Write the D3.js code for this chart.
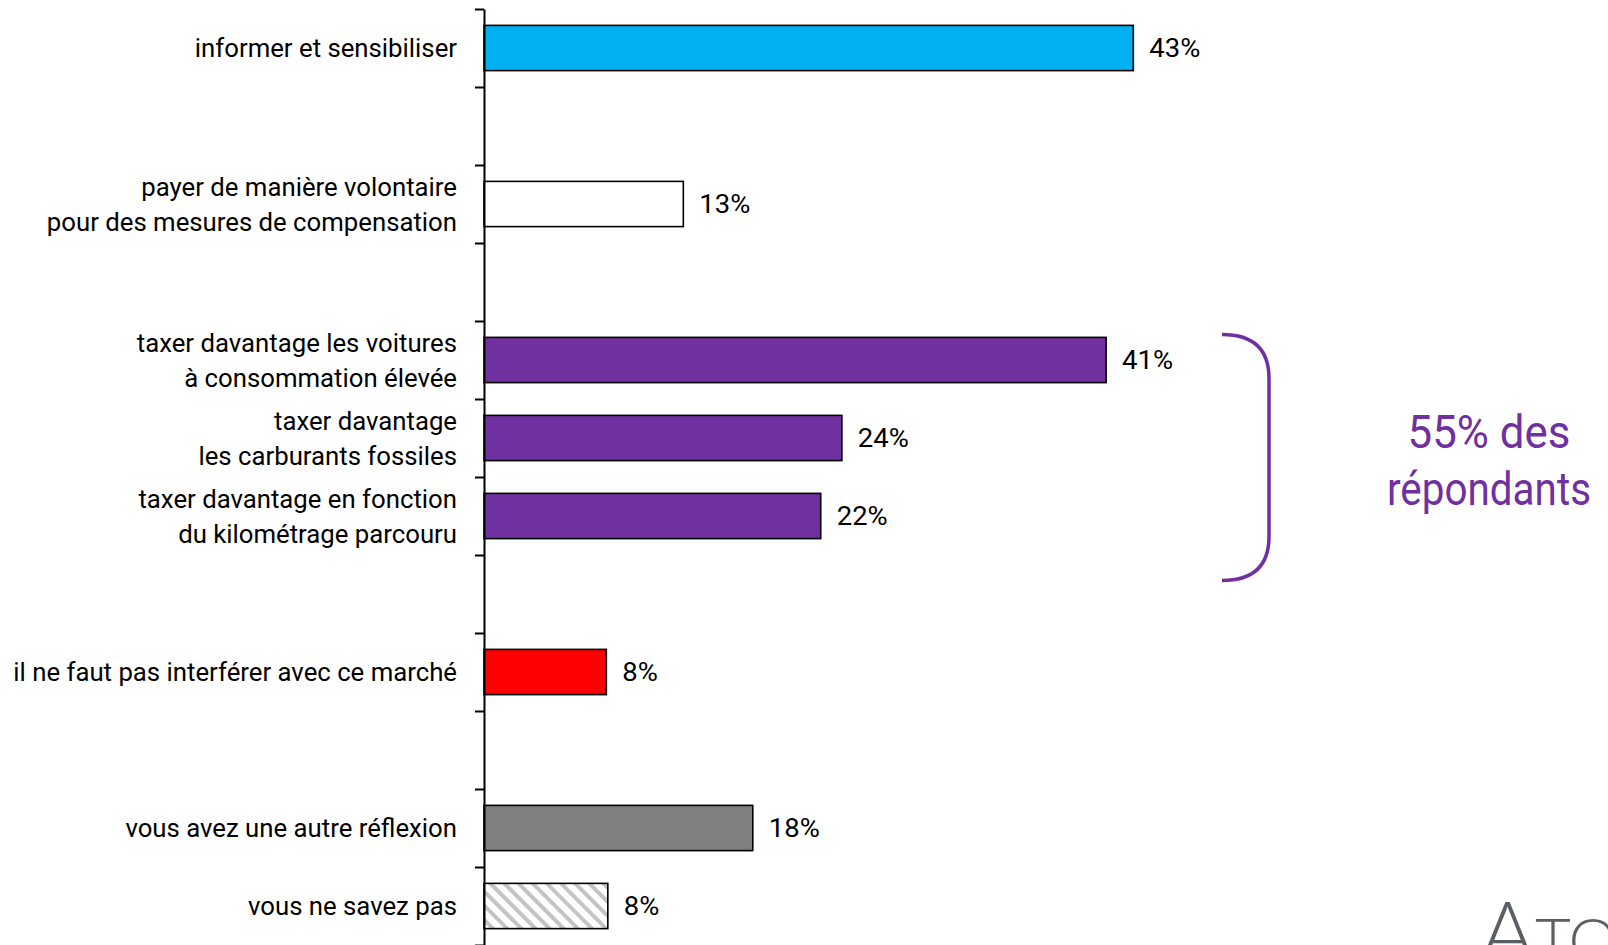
<!DOCTYPE html>
<html>
<head>
<meta charset="utf-8">
<script src="https://cdn.jsdelivr.net/npm/d3@7"></script>
<style>
  html, body { margin: 0; padding: 0; background: #fff; overflow: hidden; }
  svg { display: block; }
  text { font-family: Roboto, "Liberation Sans", sans-serif; font-weight: 400; }
</style>
</head>
<body>
<svg id="chart" width="1608" height="945"></svg>
<script>
// ---- data ----
const categories = [
  ["informer et sensibiliser"],
  ["payer de manière volontaire", "pour des mesures de compensation"],
  ["taxer davantage les voitures", "à consommation élevée"],
  ["taxer davantage", "les carburants fossiles"],
  ["taxer davantage en fonction", "du kilométrage parcouru"],
  ["il ne faut pas interférer avec ce marché"],
  ["vous avez une autre réflexion"],
  ["vous ne savez pas"]
];
const slots = [0, 2, 4, 5, 6, 8, 10, 11];
const values = [43, 13.2, 41.2, 23.7, 22.3, 8.1, 17.8, 8.2];
const valueLabels = ["43%", "13%", "41%", "24%", "22%", "8%", "18%", "8%"];
const fills = ["#00B0F0", "#FFFFFF", "#7030A0", "#7030A0", "#7030A0", "#FF0000", "#808080", "url(#hatch)"];
const groupText = ["55% des", "répondants"];
const groupSlots = [4, 6];
const slotCount = 12;

// ---- drawing ----
const svg = d3.select("#chart");
const axisX = 484;
const labelRight = 457;
const fontSize = 26;

const defs = svg.append("defs");
const pat = defs.append("pattern")
  .attr("id", "hatch").attr("patternUnits", "userSpaceOnUse")
  .attr("width", 10).attr("height", 10)
  .attr("patternTransform", "rotate(-45)");
pat.append("rect").attr("width", 10).attr("height", 10).attr("fill", "#fff");
pat.append("rect").attr("x", 0).attr("y", 0).attr("width", 4).attr("height", 10).attr("fill", "#c4c4c4");

const y = d3.scaleBand().domain(d3.range(slotCount)).range([9, 945])
  .paddingInner(0.42).paddingOuter(0.21);
const yTicks = d3.scaleLinear().domain([0, slotCount]).range([9, 945]);
const x = d3.scaleLinear().domain([0, 100]).range([axisX, axisX + 1510]);

// measure condensing factors so texts span like the reference
function widthOf(txt, size) {
  const p = svg.append("text").attr("font-size", size).text(txt);
  const w = p.node().getComputedTextLength();
  p.remove();
  return w;
}
const sx = 444 / widthOf(categories[5][0], fontSize);
const sxVal = 51 / widthOf(valueLabels[0], fontSize);
const groupSize = 47;
const groupWidths = [163, 204];
const groupY = [448, 505];

// bars
svg.append("g").selectAll("rect").data(values).join("rect")
  .attr("x", x(0))
  .attr("y", (d, i) => y(slots[i]))
  .attr("width", d => x(d) - x(0))
  .attr("height", y.bandwidth())
  .attr("fill", (d, i) => fills[i])
  .attr("stroke", "#000").attr("stroke-width", 1.6);

// axis
const axis = d3.axisLeft(yTicks).tickValues(d3.range(slotCount + 1)).tickFormat("").tickSize(9).tickSizeOuter(0);
const ag = svg.append("g").attr("transform", `translate(${axisX},0)`).call(axis);
ag.select(".domain").attr("stroke", "#000").attr("stroke-width", 2);
ag.selectAll(".tick line").attr("stroke", "#000").attr("stroke-width", 2);

// category labels
const lineGap = 35;
const lg = svg.append("g");
categories.forEach((lines, i) => {
  const cy = y(slots[i]) + y.bandwidth() / 2;
  const t = lg.append("text")
    .attr("transform", `translate(${labelRight},${cy}) scale(${sx},1)`)
    .attr("text-anchor", "end")
    .attr("font-size", fontSize).attr("fill", "#000");
  lines.forEach((ln, j) => {
    t.append("tspan").attr("x", 0)
      .attr("y", (j - (lines.length - 1) / 2) * lineGap)
      .attr("dy", "0.36em").text(ln);
  });
});

// value labels
svg.append("g").selectAll("text").data(values).join("text")
  .attr("transform", (d, i) => `translate(${x(d) + 16},${y(slots[i]) + y.bandwidth() / 2}) scale(${sxVal},1)`)
  .attr("dy", "0.36em")
  .attr("font-size", fontSize).attr("fill", "#000")
  .text((d, i) => valueLabels[i]);

// bracket
const bTop = y(groupSlots[0]) - 3;
const bBot = y(groupSlots[1]) + y.bandwidth() + 42;
const bx0 = 1222, bx1 = 1269, r = 44;
svg.append("path")
  .attr("d", `M${bx0},${bTop} Q${bx1},${bTop} ${bx1},${bTop + r} L${bx1},${bBot - r} Q${bx1},${bBot} ${bx0},${bBot}`)
  .attr("fill", "none").attr("stroke", "#7030A0").attr("stroke-width", 3.5);

groupText.forEach((ln, j) => {
  const s = groupWidths[j] / widthOf(ln, groupSize);
  svg.append("text").attr("text-anchor", "middle").attr("fill", "#7030A0")
    .attr("font-size", groupSize)
    .attr("transform", `translate(1489,${groupY[j]}) scale(${s},1)`)
    .text(ln);
});

// logo (cut off at the edge, as in the reference)
const logo = svg.append("text").attr("x", 1480).attr("y", 962).attr("fill", "#5a5f64")
  .style("font-family", "Lato, sans-serif").style("font-weight", 300);
logo.append("tspan").attr("font-size", 84).text("A");
logo.append("tspan").attr("font-size", 62).text("TO");
</script>
</body>
</html>
